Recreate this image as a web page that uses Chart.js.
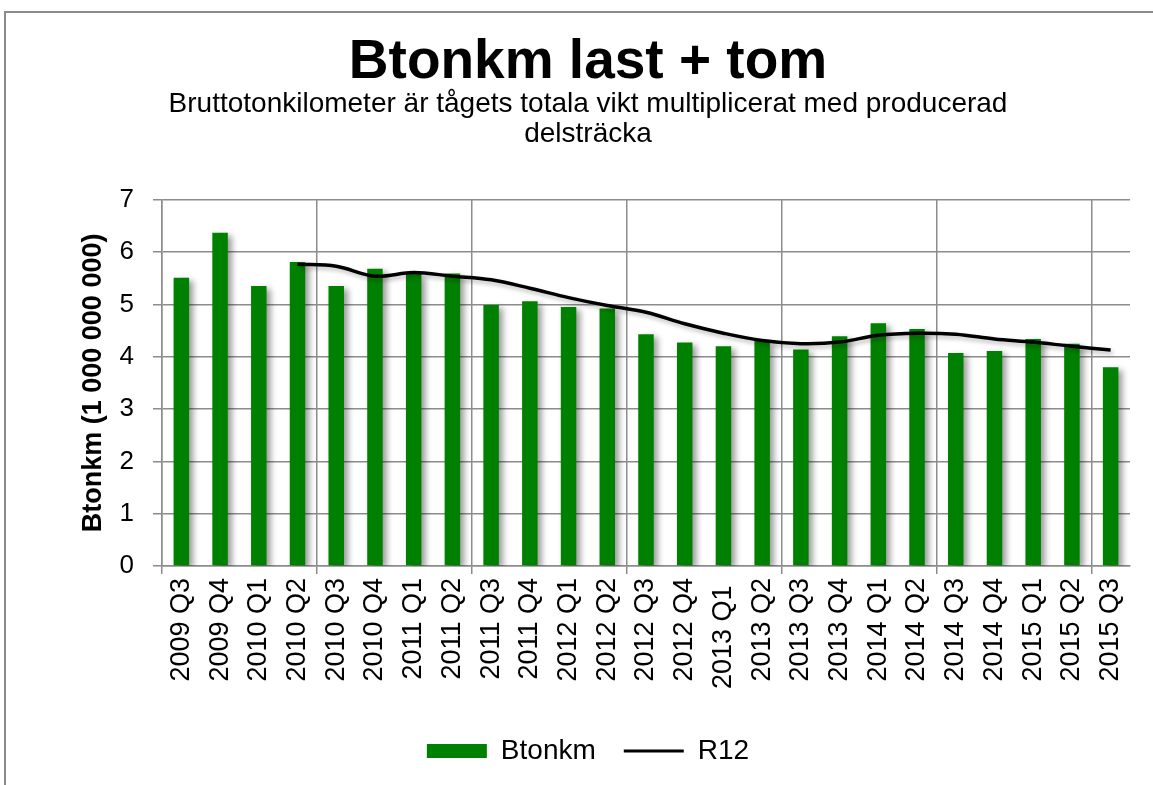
<!DOCTYPE html>
<html>
<head>
<meta charset="utf-8">
<title>Btonkm last + tom</title>
<script src="https://cdn.jsdelivr.net/npm/chart.js@4.4.0/dist/chart.umd.min.js"></script>
<style>
  html, body { margin: 0; padding: 0; background: #fff; }
</style>
</head>
<body>
<canvas id="btonkmChart" width="1153" height="785"></canvas>
<script>
// Quarters on the x axis (2013 Q1 has a trailing space in the original sheet)
var quarters = [
    '2009 Q3', '2009 Q4', '2010 Q1', '2010 Q2', '2010 Q3', '2010 Q4',
    '2011 Q1', '2011 Q2', '2011 Q3', '2011 Q4', '2012 Q1', '2012 Q2',
    '2012 Q3', '2012 Q4', '2013 Q1 ', '2013 Q2', '2013 Q3', '2013 Q4',
    '2014 Q1', '2014 Q2', '2014 Q3', '2014 Q4', '2015 Q1', '2015 Q2', '2015 Q3'
];

// Btonkm per quarter (billions)
var btonkm = [
    5.51, 6.37, 5.35, 5.81, 5.35, 5.68,
    5.58, 5.59, 4.99, 5.06, 4.95, 4.92,
    4.43, 4.27, 4.20, 4.30, 4.14, 4.39,
    4.64, 4.53, 4.07, 4.11, 4.34, 4.25, 3.80
];

// Rolling 12 months, starts at 2010 Q2
var r12 = [
    null, null, null, 5.77, 5.73, 5.54,
    5.61, 5.54, 5.47, 5.31, 5.13, 4.98,
    4.85, 4.63, 4.45, 4.31, 4.25, 4.28,
    4.41, 4.45, 4.43, 4.34, 4.28, 4.20, 4.13
];

var gridGray = '#8c8c8c';
Chart.defaults.font.family = '"Liberation Sans", Arial, sans-serif';
Chart.defaults.color = '#000';

// Grey frame round the chart (top and left edge visible)
var framePlugin = {
    id: 'frame',
    beforeDraw: function (chart) {
        var c = chart.ctx;
        c.save();
        c.strokeStyle = '#8a8a8a';
        c.lineWidth = 2;
        c.beginPath();
        c.moveTo(5, chart.height);
        c.lineTo(5, 12);
        c.lineTo(chart.width, 12);
        c.stroke();
        c.restore();
    }
};

// Soft drop shadow behind bars and line
var shadowPlugin = {
    id: 'shadow',
    beforeDatasetDraw: function (chart, args) {
        var c = chart.ctx;
        c.save();
        if (args.index === 0) {
            c.shadowColor = 'rgba(0, 0, 0, 0.4)';
            c.shadowOffsetX = 4;
            c.shadowOffsetY = 3;
            c.shadowBlur = 6;
        } else {
            c.shadowColor = 'rgba(0, 0, 0, 0.25)';
            c.shadowOffsetX = 2;
            c.shadowOffsetY = 3;
            c.shadowBlur = 4;
        }
    },
    afterDatasetDraw: function (chart) {
        chart.ctx.restore();
    }
};

var ctx = document.getElementById('btonkmChart').getContext('2d');

var btonkmChart = new Chart(ctx, {
    type: 'bar',
    data: {
        labels: quarters,
        datasets: [{
            type: 'bar',
            label: 'Btonkm',
            data: btonkm,
            backgroundColor: '#008000',
            barPercentage: 0.4,
            categoryPercentage: 1,
            order: 1
        }, {
            type: 'line',
            label: 'R12',
            data: r12,
            borderColor: '#000',
            backgroundColor: '#000',
            borderWidth: 3.5,
            pointRadius: 0,
            tension: 0.35,
            fill: false,
            order: 0
        }]
    },
    options: {
        responsive: false,
        animation: false,
        layout: {
            padding: { left: 46, right: 23, top: 10, bottom: 10 }
        },
        plugins: {
            tooltip: { enabled: false },
            title: {
                display: true,
                text: 'Btonkm last + tom',
                color: '#000',
                font: { size: 55, weight: 'bold', lineHeight: 1.0 },
                padding: { top: 25, bottom: 0 }
            },
            subtitle: {
                display: true,
                text: ['Bruttotonkilometer är tågets totala vikt multiplicerat med producerad', 'delsträcka'],
                color: '#000',
                font: { size: 28, lineHeight: 1.05 },
                padding: { top: 0, bottom: 51 }
            },
            legend: {
                position: 'bottom',
                labels: {
                    usePointStyle: true,
                    pointStyleWidth: 60,
                    boxHeight: 14,
                    padding: 28,
                    color: '#000',
                    font: { size: 28 },
                    generateLabels: function (chart) {
                        var items = Chart.defaults.plugins.legend.labels.generateLabels(chart);
                        items.sort(function (a, b) { return a.datasetIndex - b.datasetIndex; });
                        items[0].pointStyle = 'rect';
                        items[0].lineWidth = 0;
                        items[1].pointStyle = 'line';
                        items[1].lineWidth = 3;
                        items[1].strokeStyle = '#000';
                        return items;
                    }
                }
            }
        },
        scales: {
            x: {
                offset: true,
                grid: {
                    offset: true,
                    color: function (c) { return c.index % 4 === 0 ? gridGray : 'rgba(0,0,0,0)'; },
                    lineWidth: 1.5,
                    tickLength: 8
                },
                border: { color: gridGray, width: 1.5 },
                ticks: {
                    minRotation: 90,
                    maxRotation: 90,
                    autoSkip: false,
                    padding: 4,
                    color: '#000',
                    font: { size: 27 }
                },
                afterFit: function (scale) { scale.height = 143; }
            },
            y: {
                min: 0,
                max: 7,
                ticks: {
                    stepSize: 1,
                    padding: 19,
                    color: '#000',
                    font: { size: 26 }
                },
                grid: { color: gridGray, lineWidth: 1.5, tickLength: 9 },
                border: { color: gridGray, width: 1.5 },
                title: {
                    display: true,
                    text: 'Btonkm (1 000 000 000)',
                    color: '#000',
                    font: { size: 27, weight: 'bold' },
                    padding: { top: 31, bottom: 0 }
                },
                afterFit: function (scale) { scale.width = 116; }
            }
        }
    },
    plugins: [framePlugin, shadowPlugin]
});
</script>
</body>
</html>
